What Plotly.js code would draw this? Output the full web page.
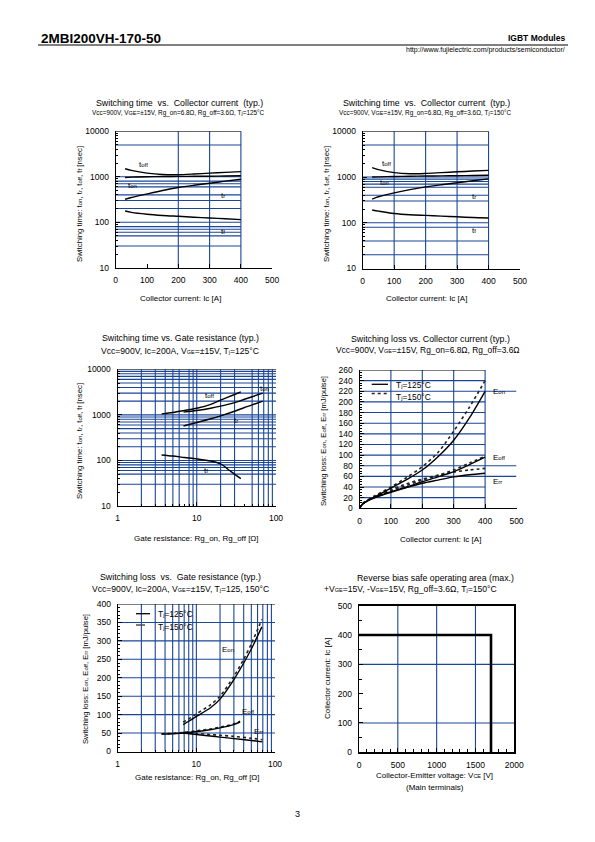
<!DOCTYPE html>
<html><head><meta charset="utf-8">
<script src="https://cdn.plot.ly/plotly-3.0.1.min.js"></script>
<style>body{margin:0;background:#fff}#chart{width:595px;height:842px}</style>
</head><body><div id="chart"></div><script>
// ---------- DATA ----------
// Plot 1/2: Switching time vs Collector current
const icTime = [30, 50, 100, 150, 200, 250, 300, 350, 400];
const toff125 = [1500, 1380, 1200, 1120, 1110, 1150, 1200, 1250, 1300];
const ton125  = [960, 980, 1000, 1010, 1020, 1025, 1030, 1040, 1050];
const tr125   = [320, 350, 420, 500, 580, 650, 720, 800, 880];
const tf125   = [177, 165, 150, 141, 135, 129, 124, 119, 114];
const toff150 = [1600, 1450, 1250, 1180, 1200, 1250, 1300, 1350, 1400];
const ton150  = [1000, 1010, 1030, 1040, 1050, 1060, 1070, 1080, 1090];
const tr150   = [330, 370, 450, 530, 610, 680, 750, 830, 910];
const tf150   = [190, 180, 160, 150, 145, 140, 135, 130, 127];
// Plot 3: Switching time vs Gate resistance
const rgToff = [3.6, 5, 7, 10, 15, 20, 30, 36];
const toffRg = [1050, 1130, 1250, 1400, 1700, 2100, 2800, 3200];
const rgOn   = [6.8, 10, 15, 20, 30, 40, 50, 68];
const tonRg  = [1150, 1250, 1400, 1550, 1850, 2200, 2500, 3000];
const trRg   = [570, 680, 820, 950, 1200, 1450, 1650, 2000];
const rgTf   = [3.6, 5, 7, 10, 15, 20, 26, 30, 36];
const tfRg   = [132, 125, 116, 108, 97, 84, 60, 50, 40];
// Plot 4: Switching loss vs Collector current
const icLoss  = [0, 10, 25, 50, 100, 150, 200, 250, 300, 350, 400];
const eon125  = [0, 8, 14, 22, 38, 54, 72, 97, 128, 170, 220];
const eon150  = [0, 8, 15, 24, 40, 58, 78, 105, 145, 190, 240];
const eoff125 = [0, 8, 14, 21, 31, 40, 50, 59, 69, 82, 96];
const eoff150 = [0, 8, 15, 22, 33, 43, 53, 62, 72, 85, 98];
const err125  = [0, 8, 14, 20, 30, 39, 47, 53, 59, 63, 66];
const err150  = [0, 9, 15, 22, 35, 46, 55, 62, 68, 72, 75];
// Plot 5: Switching loss vs Gate resistance
const rgEon      = [6.8, 8, 10, 15, 20, 30, 40, 50, 68];
const eonRg125   = [73, 82, 95, 118, 142, 195, 240, 278, 338];
const eonRg150   = [80, 88, 102, 126, 150, 204, 250, 292, 358];
const rgEoff     = [3.6, 5, 7, 10, 15, 20, 30, 36];
const eoffRg125  = [47, 48, 50, 54, 59, 64, 73, 80];
const eoffRg150  = [48, 49, 52, 56, 61, 66, 75, 82];
const rgErr      = [6.8, 10, 15, 20, 30, 50, 69];
const errRg125   = [50, 46, 42, 39, 35, 30, 26];
const errRg150   = [52, 49, 46, 44, 41, 36, 32];
// Plot 6: RBSOA
const vceSoa = [0, 1700, 1700];
const icSoa  = [400, 400, 0];
// Tick labels
const logTickVals = [10, 100, 1000, 10000];
const logTickText = ['10', '100', '1000', '10000'];
const rgTickVals = [1, 10, 100];
const rgTickText = ['1', '10', '100'];

// ---------- LAYOUT HELPERS ----------
const W = 595, H = 842;
const PX = x => x / W;
const PY = y => 1 - y / H;
const FONT = 'Liberation Sans, Arial, Helvetica, sans-serif';
const BLUE = '#1a4696';
const shapes = [], ann = [];
const minorLog = (lo, hi) => { const a = []; for (let d = lo; d < hi; d *= 10) for (let k = 2; k <= 9; k++) a.push(d * k); return a; };

// shapes take data values on log axes too
function hline(xa, ya, y, x0, x1, color = BLUE, w = 1.1) {
  shapes.push({type: 'line', xref: xa, yref: ya, x0: x0, x1: x1, y0: y, y1: y, line: {color: color, width: w}, layer: 'below'});
}
function vline(xa, ya, x, y0, y1, color = BLUE, w = 1.1) {
  shapes.push({type: 'line', xref: xa, yref: ya, x0: x, x1: x, y0: y0, y1: y1, line: {color: color, width: w}, layer: 'below'});
}
function txt(x, y, s, size, opts = {}) {
  ann.push(Object.assign({xref: 'paper', yref: 'paper', x: PX(x), y: PY(y), text: s, showarrow: false,
    font: {family: FONT, size: size, color: 'black'}, xanchor: 'center', yanchor: 'middle'}, opts));
}
// annotations on log axes take log10 positions
function dtxt(xa, ya, x, y, s, size = 8, opts = {}) {
  ann.push(Object.assign({xref: xa, yref: ya, x: x, y: y, text: s, showarrow: false,
    font: {family: FONT, size: size, color: 'black'}, xanchor: 'left', yanchor: 'middle'}, opts));
}
function ax(extra) {
  return Object.assign({showline: true, linecolor: 'black', linewidth: 1, ticks: 'inside', ticklen: 4,
    tickcolor: 'black', showgrid: false, zeroline: false, ticklabelstandoff: 4,
    tickfont: {family: FONT, size: 8.5, color: 'black'}, fixedrange: true}, extra);
}
// small lettering used for subscripts / small caps in the datasheet
const sm = s => "<span style='font-size:5.5px'>" + s + "</span>";
const sb = s => "<span style='font-size:6px'>" + s + "</span>";

// ---------- GRIDS ----------
// Plot 1
[200, 300, 400].forEach(v => vline('x', 'y', v, 10, 10000));
[5000, 1000, 800, 700, 600, 400, 300, 200, 100, 80, 70, 60, 50, 30].forEach(v => hline('x', 'y', v, 0, 400));
hline('x', 'y', 10000, 0, 400, 'black', 1);
// Plot 2
[100, 200, 300, 400].forEach(v => vline('x2', 'y2', v, 10, 10000));
[5000, 1000, 900, 800, 700, 600, 400, 300, 100, 80, 40, 20].forEach(v => hline('x2', 'y2', v, 0, 400));
hline('x2', 'y2', 10000, 0, 400, 'black', 1);
// Plot 3
[2, 3, 4, 5, 6, 8, 9, 10, 20, 30, 50, 60, 70, 80, 90].forEach(v => vline('x3', 'y3', v, 10, 10000));
[9000, 8000, 7000, 6000, 5000, 4000, 3000, 2000, 1000, 900, 800, 700, 600, 500, 400, 300, 200, 100, 90, 80, 70, 60, 50, 30]
  .forEach(v => hline('x3', 'y3', v, 1, 100));
hline('x3', 'y3', 10000, 1, 100, 'black', 1);
// Plot 4
[100, 200, 300, 400].forEach(v => vline('x4', 'y4', v, 0, 260));
[20, 40, 100, 120, 140, 160, 180, 200, 240].forEach(v => hline('x4', 'y4', v, 0, 400));
[60, 80, 220].forEach(v => hline('x4', 'y4', v, 0, 500));
hline('x4', 'y4', 260, 0, 400, 'black', 1);
// Plot 5
[2, 3, 4, 5, 6, 7, 8, 9, 10, 20, 30, 40, 50, 60, 70, 80, 90].forEach(v => vline('x5', 'y5', v, 0, 400));
[50, 100, 150, 200, 250, 300, 350].forEach(v => hline('x5', 'y5', v, 1, 100));
hline('x5', 'y5', 400, 1, 100, 'black', 1);
// Plot 6
[500, 1000, 1500].forEach(v => vline('x6', 'y6', v, 0, 500));
[100, 300].forEach(v => hline('x6', 'y6', v, 0, 2000));

// ---------- TRACES ----------
const solid = {color: 'black', width: 1.4, shape: 'spline', smoothing: 0.8};
const dotted = {color: '#222', width: 1.6, dash: 'dot', shape: 'spline', smoothing: 0.8};
const T = (x, y, xa, ya, line, name) => ({x: x, y: y, xaxis: xa, yaxis: ya, mode: 'lines', line: line, name: name, showlegend: false, hoverinfo: 'skip'});
const traces = [
  T(icTime, toff125, 'x', 'y', solid, 'toff'), T(icTime, ton125, 'x', 'y', solid, 'ton'),
  T(icTime, tr125, 'x', 'y', solid, 'tr'), T(icTime, tf125, 'x', 'y', solid, 'tf'),
  T(icTime, toff150, 'x2', 'y2', solid, 'toff'), T(icTime, ton150, 'x2', 'y2', solid, 'ton'),
  T(icTime, tr150, 'x2', 'y2', solid, 'tr'), T(icTime, tf150, 'x2', 'y2', solid, 'tf'),
  T(rgToff, toffRg, 'x3', 'y3', solid, 'toff'), T(rgOn, tonRg, 'x3', 'y3', solid, 'ton'),
  T(rgOn, trRg, 'x3', 'y3', solid, 'tr'), T(rgTf, tfRg, 'x3', 'y3', solid, 'tf'),
  T(icLoss, eon150, 'x4', 'y4', dotted, 'Eon 150'), T(icLoss, eoff150, 'x4', 'y4', dotted, 'Eoff 150'),
  T(icLoss, err150, 'x4', 'y4', dotted, 'Err 150'),
  T(icLoss, eon125, 'x4', 'y4', solid, 'Eon 125'), T(icLoss, eoff125, 'x4', 'y4', solid, 'Eoff 125'),
  T(icLoss, err125, 'x4', 'y4', solid, 'Err 125'),
  T(rgEon, eonRg150, 'x5', 'y5', dotted, 'Eon 150'), T(rgEoff, eoffRg150, 'x5', 'y5', dotted, 'Eoff 150'),
  T(rgErr, errRg150, 'x5', 'y5', dotted, 'Err 150'),
  T(rgEon, eonRg125, 'x5', 'y5', solid, 'Eon 125'), T(rgEoff, eoffRg125, 'x5', 'y5', solid, 'Eoff 125'),
  T(rgErr, errRg125, 'x5', 'y5', solid, 'Err 125'),
  T(vceSoa, icSoa, 'x6', 'y6', {color: 'black', width: 2.6}, 'RBSOA')
];

// ---------- TEXT ----------
const tt = 'Switching time: t' + sb('on') + ', t' + sb('r') + ', t' + sb('off') + ', t' + sb('f') + ' [nsec]';
const el = 'Switching loss: E' + sb('on') + ', E' + sb('off') + ', E' + sb('rr') + ' [mJ/pulse]';
// header
txt(39, 38, '<b>2MBI200VH-170-50</b>', 13.5, {xanchor: 'left'});
txt(567, 38, '<b>IGBT Modules</b>', 8.5, {xanchor: 'right'});
txt(567, 50, 'http://www.fujielectric.com/products/semiconductor/', 7, {xanchor: 'right'});
shapes.push({type: 'line', xref: 'paper', yref: 'paper', x0: PX(38), x1: PX(568), y0: PY(45), y1: PY(45), line: {color: 'black', width: 1}});
txt(297, 814, '3', 9);
// plot 1
txt(179.5, 102.7, 'Switching time  vs.  Collector current  (typ.)', 8.8);
txt(178.5, 113.3, 'Vcc=900V, V' + sm('GE') + '=±15V, Rg_on=6.8Ω, Rg_off=3.6Ω, T' + sm('j') + '=125°C', 6.4);
txt(180, 299, 'Collector current: Ic [A]', 8);
txt(79, 204, tt, 7.8, {textangle: -90});
dtxt('x', 'y', 68, 3.26, 't' + sb('off')); dtxt('x', 'y', 32, 2.8, 't' + sb('on'));
dtxt('x', 'y', 330, 2.58, 't' + sb('r')); dtxt('x', 'y', 330, 1.79, 't' + sb('f'));
// plot 2
txt(426, 102.7, 'Switching time  vs.  Collector current  (typ.)', 8.8);
txt(425.5, 113.3, 'Vcc=900V, V' + sm('GE') + '=±15V, Rg_on=6.8Ω, Rg_off=3.6Ω, T' + sm('j') + '=150°C', 6.4);
txt(426, 299, 'Collector current: Ic [A]', 8);
txt(326, 204, tt, 7.8, {textangle: -90});
dtxt('x2', 'y2', 56, 3.29, 't' + sb('off')); dtxt('x2', 'y2', 50, 2.88, 't' + sb('on'));
dtxt('x2', 'y2', 340, 2.58, 't' + sb('r')); dtxt('x2', 'y2', 340, 1.84, 't' + sb('f'));
// plot 3
txt(180, 338.3, 'Switching time vs. Gate resistance (typ.)', 8.8);
txt(180, 351, 'Vcc=900V, Ic=200A, V' + sm('GE') + '=±15V, T' + sm('j') + '=125°C', 8.6);
txt(196, 538.5, 'Gate resistance: Rg_on, Rg_off [Ω]', 8);
txt(79, 441, tt, 7.8, {textangle: -90});
dtxt('x3', 'y3', 1.08, 3.42, 't' + sb('off')); dtxt('x3', 'y3', 1.77, 3.58, 't' + sb('on'));
dtxt('x3', 'y3', 1.44, 2.87, 't' + sb('r')); dtxt('x3', 'y3', 1.07, 1.79, 't' + sb('f'));
// plot 4
txt(430.8, 338.5, 'Switching loss vs. Collector current (typ.)', 8.8);
txt(428, 350.3, 'Vcc=900V, V' + sm('GE') + '=±15V, Rg_on=6.8Ω, Rg_off=3.6Ω', 8.4);
txt(440, 539, 'Collector current: Ic [A]', 8);
txt(323, 441, el, 7.6, {textangle: -90});
dtxt('x4', 'y4', 420, 220, 'E' + sb('on')); dtxt('x4', 'y4', 420, 95, 'E' + sb('off'));
dtxt('x4', 'y4', 420, 50, 'E' + sb('rr'));
shapes.push({type: 'line', xref: 'paper', yref: 'paper', x0: PX(371.7), x1: PX(388), y0: PY(384.3), y1: PY(384.3), line: {color: 'black', width: 1.3}});
shapes.push({type: 'line', xref: 'paper', yref: 'paper', x0: PX(371.7), x1: PX(388), y0: PY(393.5), y1: PY(393.5), line: {color: '#222', width: 1.6, dash: 'dot'}});
txt(393.5, 384.5, 'T' + sb('j') + '=125°C', 8.4, {xanchor: 'left'});
txt(393.5, 396.5, 'T' + sb('j') + '=150°C', 8.4, {xanchor: 'left'});
// plot 5
txt(180, 577.3, 'Switching loss  vs.  Gate resistance (typ.)', 8.8);
txt(180.5, 589, 'Vcc=900V, Ic=200A, V' + sm('GE') + '=±15V, T' + sm('j') + '=125, 150°C', 8.6);
txt(197, 777, 'Gate resistance: Rg_on, Rg_off [Ω]', 8);
txt(85, 679, el, 7.6, {textangle: -90});
dtxt('x5', 'y5', 1.3, 276, 'E' + sb('on')); dtxt('x5', 'y5', 1.56, 109, 'E' + sb('off'));
dtxt('x5', 'y5', 1.71, 53, 'E' + sb('rr'));
shapes.push({type: 'line', xref: 'paper', yref: 'paper', x0: PX(136), x1: PX(150), y0: PY(613.7), y1: PY(613.7), line: {color: 'black', width: 1.3}});
shapes.push({type: 'line', xref: 'paper', yref: 'paper', x0: PX(136), x1: PX(150), y0: PY(625), y1: PY(625), line: {color: '#444', width: 1.4, dash: 'dash'}});
txt(156, 614, 'T' + sb('j') + '=125°C', 8.4, {xanchor: 'left'});
txt(156, 626.5, 'T' + sb('j') + '=150°C', 8.4, {xanchor: 'left'});
// plot 6
txt(436, 577.7, 'Reverse bias safe operating area (max.)', 8.8);
txt(410, 589, '+V' + sm('GE') + '=15V, -V' + sm('GE') + '=15V, Rg_off=3.6Ω, T' + sm('j') + '=150°C', 8.6);
txt(434.5, 775, 'Collector-Emitter voltage: V' + sm('CE') + ' [V]', 8);
txt(435, 787.5, '(Main terminals)', 8);
txt(327, 679, 'Collector current: Ic [A]', 8, {textangle: -90});

// ---------- AXES ----------
const layout = {
  width: W, height: H, margin: {l: 0, r: 0, t: 0, b: 0}, paper_bgcolor: 'white', plot_bgcolor: 'white',
  showlegend: false, font: {family: FONT, color: 'black'},
  xaxis: ax({domain: [PX(115.7), PX(272.2)], range: [0, 500], dtick: 100, tick0: 0, anchor: 'y'}),
  yaxis: ax({domain: [PY(267.7), PY(131.3)], type: 'log', range: [1, 4], tickvals: logTickVals, ticktext: logTickText, anchor: 'x',
    minor: {tickvals: minorLog(10, 10000), ticks: 'inside', ticklen: 2, tickcolor: 'black'}}),
  xaxis2: ax({domain: [PX(362.7), PX(520)], range: [0, 500], dtick: 100, tick0: 0, anchor: 'y2'}),
  yaxis2: ax({domain: [PY(268.5), PY(131.3)], type: 'log', range: [1, 4], tickvals: logTickVals, ticktext: logTickText, anchor: 'x2',
    minor: {tickvals: minorLog(10, 10000), ticks: 'inside', ticklen: 2, tickcolor: 'black'}}),
  xaxis3: ax({domain: [PX(117.5), PX(276)], type: 'log', range: [0, 2], tickvals: rgTickVals, ticktext: rgTickText, anchor: 'y3',
    minor: {tickvals: minorLog(1, 100), ticks: 'inside', ticklen: 2, tickcolor: 'black'}}),
  yaxis3: ax({domain: [PY(506), PY(369.3)], type: 'log', range: [1, 4], tickvals: logTickVals, ticktext: logTickText, anchor: 'x3',
    minor: {tickvals: minorLog(10, 10000), ticks: 'inside', ticklen: 2, tickcolor: 'black'}}),
  xaxis4: ax({domain: [PX(359.5), PX(516.5)], range: [0, 500], dtick: 100, tick0: 0, anchor: 'y4'}),
  yaxis4: ax({domain: [PY(508.3), PY(370)], range: [0, 260], dtick: 20, tick0: 0, anchor: 'x4',
    minor: {dtick: 5, ticks: 'inside', ticklen: 2, tickcolor: 'black'}}),
  xaxis5: ax({domain: [PX(117.7), PX(275)], type: 'log', range: [0, 2], tickvals: rgTickVals, ticktext: rgTickText, anchor: 'y5',
    minor: {tickvals: minorLog(1, 100), ticks: 'inside', ticklen: 2, tickcolor: 'black'}}),
  yaxis5: ax({domain: [PY(751.5), PY(604)], range: [0, 400], dtick: 50, tick0: 0, anchor: 'x5',
    minor: {dtick: 10, ticks: 'inside', ticklen: 2, tickcolor: 'black'}}),
  xaxis6: ax({domain: [PX(359), PX(514.3)], range: [0, 2000], dtick: 500, tick0: 0, anchor: 'y6', mirror: true, linewidth: 1.3,
    minor: {dtick: 100, ticks: 'inside', ticklen: 3, tickcolor: 'black'}}),
  yaxis6: ax({domain: [PY(752.3), PY(605.7)], range: [0, 500], dtick: 100, tick0: 0, anchor: 'x6', mirror: true, linewidth: 1.3,
    minor: {dtick: 50, ticks: 'inside', ticklen: 3, tickcolor: 'black'}}),
  shapes: shapes, annotations: ann
};
Plotly.newPlot('chart', traces, layout, {staticPlot: true, displayModeBar: false});
</script></body></html>
